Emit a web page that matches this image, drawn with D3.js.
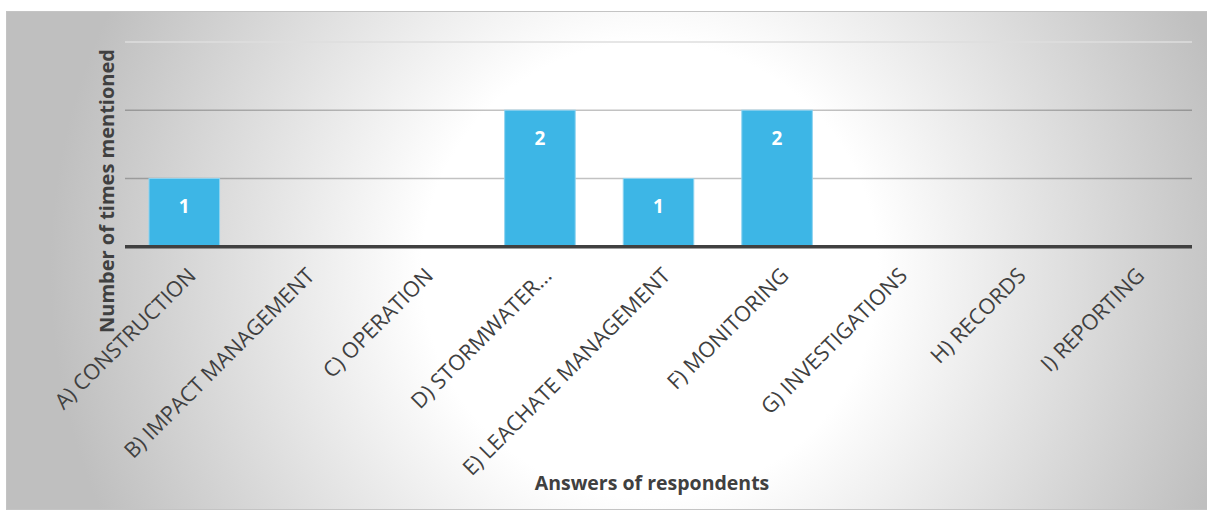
<!DOCTYPE html>
<html>
<head>
<meta charset="utf-8">
<script src="https://cdn.jsdelivr.net/npm/d3@7"></script>
<style>
  html, body { margin: 0; padding: 0; background: #ffffff; }
  svg { display: block; font-family: "Open Sans", "DejaVu Sans", sans-serif; }
</style>
</head>
<body>
<svg id="canvas" width="1207" height="512"></svg>
<script>
// Chart data
const categories = [
  "A) CONSTRUCTION", "B) IMPACT MANAGEMENT", "C) OPERATION", "D) STORMWATER...",
  "E) LEACHATE MANAGEMENT", "F) MONITORING", "G) INVESTIGATIONS", "H) RECORDS", "I) REPORTING"
];
const counts = [1, 0, 0, 2, 1, 2, 0, 0, 0];
const gridValues = [1, 2, 3];
const xTitle = "Answers of respondents";
const yTitle = "Number of times mentioned";

const svg = d3.select("#canvas");

// Background panel with a soft radial gradient
const defs = svg.append("defs");
const grad = defs.append("radialGradient")
  .attr("id", "bg")
  .attr("gradientUnits", "userSpaceOnUse")
  .attr("cx", 650).attr("cy", 270).attr("r", 600);
grad.append("stop").attr("offset", "0").attr("stop-color", "#ffffff");
grad.append("stop").attr("offset", "0.38").attr("stop-color", "#ffffff");
grad.append("stop").attr("offset", "1").attr("stop-color", "#bfbfbf");

svg.append("rect")
  .attr("x", 6.5).attr("y", 11.5)
  .attr("width", 1201).attr("height", 498)
  .attr("fill", "url(#bg)")
  .attr("stroke", "#c4c4c4")
  .attr("stroke-width", 1);

// Scales
const x = d3.scaleBand()
  .domain(categories)
  .range([125, 1192])
  .paddingInner(0.405)
  .paddingOuter(0.2025);

const y = d3.scaleLinear()
  .domain([0, 3])
  .range([246.7, 42]);

// Gridlines
svg.append("g")
  .selectAll("line")
  .data(gridValues)
  .join("line")
  .attr("x1", 125).attr("x2", 1192)
  .attr("y1", d => y(d)).attr("y2", d => y(d))
  .attr("stroke", d => d === 3 ? "#dedede" : "rgba(0,0,0,0.24)")
  .attr("stroke-width", 1.5);

// Bars
const barData = categories.map((c, i) => ({ cat: c, value: counts[i] })).filter(d => d.value > 0);

svg.append("g")
  .selectAll("rect")
  .data(barData)
  .join("rect")
  .attr("x", d => x(d.cat))
  .attr("y", d => y(d.value))
  .attr("width", x.bandwidth())
  .attr("height", d => y(0) - y(d.value))
  .attr("fill", "#3db6e6")
  .attr("stroke", "#8ed3f0")
  .attr("stroke-width", 1);

// Data labels inside bar tops
svg.append("g")
  .selectAll("text")
  .data(barData)
  .join("text")
  .attr("x", d => x(d.cat) + x.bandwidth() / 2)
  .attr("y", d => y(d.value) + 35)
  .attr("text-anchor", "middle")
  .attr("fill", "#ffffff")
  .attr("font-weight", "bold")
  .attr("font-size", "19px")
  .text(d => d.value);

// Baseline (x axis line)
svg.append("line")
  .attr("x1", 125).attr("x2", 1192)
  .attr("y1", y(0)).attr("y2", y(0))
  .attr("stroke", "#404040")
  .attr("stroke-width", 3.6);

// Category labels, rotated
svg.append("g")
  .selectAll("text")
  .data(categories)
  .join("text")
  .attr("transform", d => `translate(${x(d) + x.bandwidth() / 2 + 13},277) rotate(-45)`)
  .attr("text-anchor", "end")
  .attr("fill", "#404040")
  .attr("font-size", "21.5px")
  .text(d => d);

// Axis titles
svg.append("text")
  .attr("x", 652).attr("y", 490)
  .attr("text-anchor", "middle")
  .attr("fill", "#404040")
  .attr("font-weight", "bold")
  .attr("font-size", "19.5px")
  .text(xTitle);

svg.append("text")
  .attr("transform", "translate(114,191) rotate(-90)")
  .attr("text-anchor", "middle")
  .attr("fill", "#404040")
  .attr("font-weight", "bold")
  .attr("font-size", "20px")
  .text(yTitle);
</script>
</body>
</html>
